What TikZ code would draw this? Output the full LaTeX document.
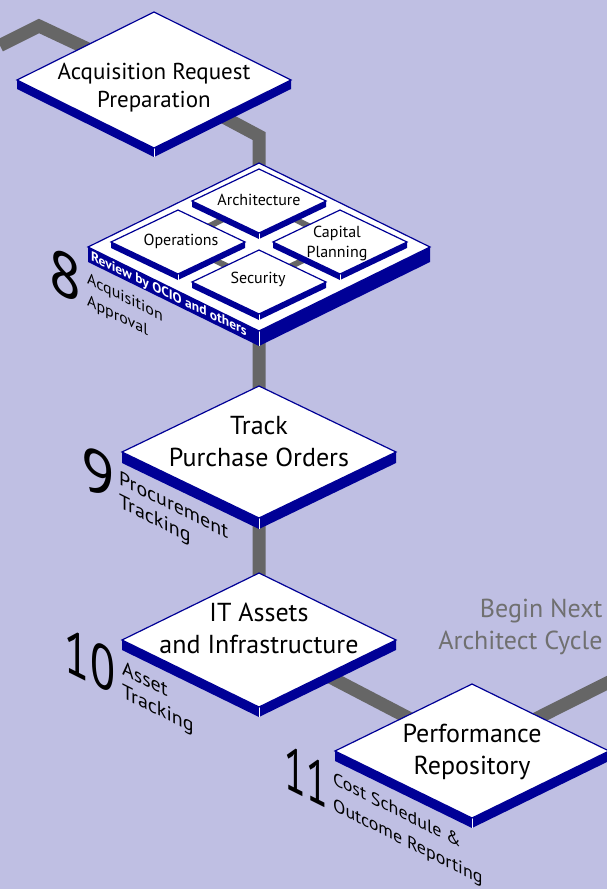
\documentclass[tikz,border=0pt]{standalone}
\usepackage{fontspec}
\setmainfont{PT Sans}

\definecolor{bgblue}{RGB}{191,191,227}
\definecolor{slabblue}{RGB}{0,0,150}
\definecolor{trackgray}{RGB}{102,102,102}
\definecolor{cyclegray}{RGB}{112,112,112}

% isometric slab: name, x, y, half width, half height, thickness
\newcommand{\slab}[6]{%
  \coordinate (#1) at (#2,#3);
  \fill[slabblue] (#2-#4,#3) -- (#2,#3+#5) -- (#2+#4,#3) -- (#2+#4,#3+#6)
    -- (#2,#3+#5+#6) -- (#2-#4,#3+#6) -- cycle;
  \draw[white,line width=0.6pt] (#2,#3+#5) -- (#2,#3+#5+#6);
  \filldraw[fill=white,draw=slabblue,line width=1.2pt] (#2-#4,#3) -- (#2,#3-#5)
    -- (#2+#4,#3) -- (#2,#3+#5) -- cycle;
}

\begin{document}
\begin{tikzpicture}[x=1pt,y=-1pt,
    track/.style={trackgray,line width=13pt},
    link/.style={trackgray,line width=6pt},
    mainlabel/.style={align=center,font=\fontsize{26}{32}\selectfont},
    boxlabel/.style={align=center,font=\fontsize{16}{20}\selectfont},
    stepnum/.style={inner sep=0pt,yslant=-0.5,font=\fontsize{62}{62}\selectfont},
    steptext/.style={anchor=north west,inner sep=0pt,align=left,yslant=-0.5,
      font=\fontsize{20}{23}\selectfont}]
  \fill[bgblue] (0,0) rectangle (607,889);
  \useasboundingbox (0,0) rectangle (607,889);

  % the path of the cycle
  \coordinate (in) at (0,45.5);
  \coordinate (bendA) at (39,26);
  \coordinate (bendB) at (259,136);
  \coordinate (out) at (615,679);
  \coordinate (acq) at (154,80);
  \coordinate (review) at (259,247);
  \coordinate (track) at (259,452);
  \coordinate (assets) at (259,640);
  \coordinate (perf) at (472,751);
  \draw[track] (in) -- (bendA) -- (acq) -- (bendB) -- (review) -- (track)
    -- (assets) -- (perf) -- (out);

  % steps
  \slab{acq}{154}{80}{137}{68}{9}
  \slab{review}{259}{247}{171}{84}{15}
  \slab{track}{259}{452}{137}{66}{11}
  \slab{assets}{259}{640}{137}{67}{10}
  \slab{perf}{472}{751}{137}{67}{10}

  % review boxes
  \coordinate (arch) at (259,201);
  \coordinate (ops) at (178,242);
  \coordinate (cap) at (340,242);
  \coordinate (sec) at (259,282);
  \draw[link] (arch) -- (ops) -- (sec) -- (cap) -- cycle;
  \slab{arch}{259}{201}{67}{32}{6}
  \slab{ops}{178}{242}{67}{32}{6}
  \slab{cap}{340}{242}{67}{32}{6}
  \slab{sec}{259}{282}{67}{32}{6}

  \node[mainlabel,font=\fontsize{23}{28}\selectfont] (acqlbl) at (154,88)
    {Acquisition Request\\Preparation};
  \node[boxlabel] (archlbl) at (259,200) {Architecture};
  \node[boxlabel] (opslbl) at (181,241) {Operations};
  \node[boxlabel] (caplbl) at (337,243) {Capital\\Planning};
  \node[boxlabel] (seclbl) at (258,279) {Security};
  \node[anchor=west,inner sep=0pt,yslant=-0.485,text=white,
    font=\fontsize{13.5}{13.5}\selectfont\bfseries] (reviewlbl) at (91,257)
    {Review by OCIO and others};
  \node[mainlabel] (tracklbl) at (259,442) {Track\\Purchase Orders};
  \node[mainlabel] (assetslbl) at (259,628) {IT Assets\\and Infrastructure};
  \node[mainlabel] (perflbl) at (472,752) {Performance\\Repository};
  \node[mainlabel,anchor=east,align=right,text=cyclegray] (nextlbl) at (606,627)
    {Begin Next\\Architect Cycle};

  % step numbers
  \node[stepnum] (num8) at (65,275) {8};
  \node[steptext,font=\fontsize{16}{22}\selectfont] (txt8) at (87,272)
    {Acquisition\\Approval};
  \node[stepnum] (num9) at (98,473) {9};
  \node[steptext] (txt9) at (119,470) {Procurement\\Tracking};
  \node[stepnum,xscale=0.74] (num10) at (90,661) {10};
  \node[steptext] (txt10) at (122,660) {Asset\\Tracking};
  \node[stepnum,xscale=0.64] (num11) at (306,776) {11};
  \node[steptext,font=\fontsize{18}{26}\selectfont] (txt11) at (333,771)
    {Cost Schedule \&\\Outcome Reporting};
\end{tikzpicture}
\end{document}
